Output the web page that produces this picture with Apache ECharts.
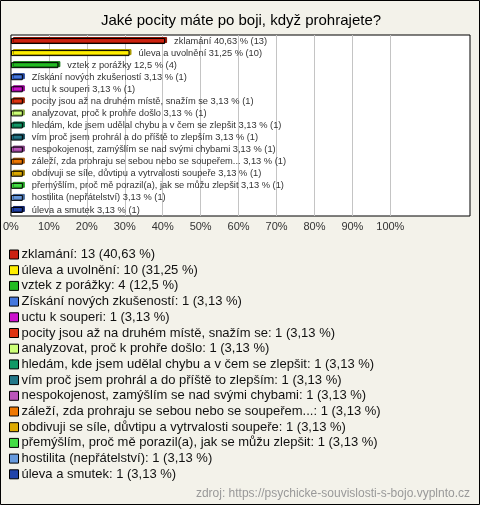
<!DOCTYPE html>
<html><head><meta charset="utf-8">
<script src="https://cdn.jsdelivr.net/npm/echarts@6/dist/echarts.min.js"></script>
<style>html,body{margin:0;padding:0;background:#f3f2ea;}#c{width:480px;height:505px;}</style>
</head><body><div id="c"></div>
<script>
const title = 'Jaké pocity máte po boji, když prohrajete?';
const categories = ['zklamání','úleva a uvolnění','vztek z porážky','Získání nových zkušeností','uctu k souperi','pocity jsou až na druhém místě, snažím se','analyzovat, proč k prohře došlo','hledám, kde jsem udělal chybu a v čem se zlepšit','vím proč jsem prohrál a do příště to zlepším','nespokojenost, zamýšlím se nad svými chybami','záleží, zda prohraju se sebou nebo se soupeřem...','obdivuji se síle, důvtipu a vytrvalosti soupeře','přemýšlím, proč mě porazil(a), jak se můžu zlepšit','hostilita (nepřátelství)','úleva a smutek'];
const counts = [13,10,4,1,1,1,1,1,1,1,1,1,1,1,1];
const percents = [40.63,31.25,12.5,3.13,3.13,3.13,3.13,3.13,3.13,3.13,3.13,3.13,3.13,3.13,3.13];
const colors = ['#cc2211','#ffee00','#22bb22','#4477dd','#cc11cc','#dd3311','#ccff77','#119966','#227788','#bb55bb','#ee7700','#ddaa00','#44dd44','#6699dd','#2244aa'];
const shades = ['#881100','#aa9900','#117711','#224499','#880088','#992200','#88aa44','#0a6644','#114455','#773377','#aa5500','#997700','#229922','#446699','#112266'];
const tickLabels = ['0%','10%','20%','30%','40%','50%','60%','70%','80%','90%','100%'];
const source = 'zdroj: https://psychicke-souvislosti-s-bojo.vyplnto.cz';

const fmt = v => String(v).replace('.', ',');
const series = categories.map((name, i) => ({
  name: name,
  type: 'bar',
  stack: 'all',
  barWidth: 6,
  data: categories.map((_, j) => j === i ? percents[i] : null),
  itemStyle: { color: colors[i], borderColor: '#000', borderWidth: 1,
    shadowColor: shades[i], shadowOffsetX: 2, shadowOffsetY: -1, shadowBlur: 0 },
  label: { show: true, position: 'right', distance: 9, fontFamily: 'Liberation Sans', fontSize: 9.3, color: '#333',
    formatter: () => name + ' ' + fmt(percents[i]) + ' % (' + counts[i] + ')' },
  emphasis: { disabled: true }
}));
const gridColors = [];
for (let k = 0; k < 14; k++) gridColors.push(k >= 1 && k <= 10 ? '#c4c4c4' : 'rgba(0,0,0,0)');

const chart = echarts.init(document.getElementById('c'), null, { renderer: 'canvas' });
chart.setOption({
  backgroundColor: '#f3f2ea',
  animation: false,
  title: { text: title, left: 236, textAlign: 'center', top: 8, textStyle: { fontFamily: 'Liberation Sans', fontSize: 15, fontWeight: 'normal', color: '#000' } },
  grid: { left: 10, top: 35, width: 460, height: 181, show: true, backgroundColor: '#fff', borderColor: '#000', borderWidth: 1 },
  xAxis: { type: 'value', min: 0, max: 121, interval: 10,
    axisLine: { show: false }, axisTick: { show: false },
    splitLine: { show: true, lineStyle: { color: gridColors, width: 1 } },
    axisLabel: { margin: 5, fontFamily: 'Liberation Sans', fontSize: 11, color: '#333',
      formatter: v => { const k = Math.round(v / 10); return (v % 10 === 0 && k <= 10) ? tickLabels[k] : ''; } } },
  yAxis: { type: 'category', inverse: true, data: categories, show: false },
  legend: { orient: 'vertical', left: 4, top: 243, itemWidth: 9, itemHeight: 9, itemGap: 2.7, icon: 'rect',
    selectedMode: false,
    itemStyle: { borderColor: '#000', borderWidth: 1 },
    textStyle: { fontFamily: 'Liberation Sans', fontSize: 13, color: '#111', padding: [0,0,0,-2] },
    formatter: name => { const i = categories.indexOf(name); return name + ': ' + counts[i] + ' (' + fmt(percents[i]) + ' %)'; },
    data: categories },
  graphic: [
    { type: 'rect', shape: { x: 0.5, y: 0.5, width: 479, height: 504 }, style: { fill: null, stroke: '#000', lineWidth: 1 }, silent: true },
    { type: 'text', right: 10, top: 488, style: { text: source, fill: '#999', fontFamily: 'Liberation Sans', fontSize: 12 }, silent: true }
  ],
  series: series
});
</script></body></html>
